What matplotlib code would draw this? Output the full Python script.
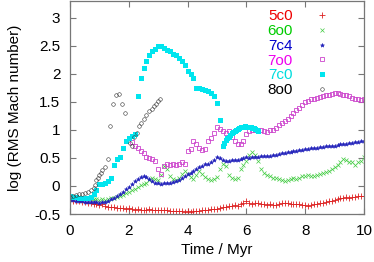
import matplotlib

matplotlib.use("Agg")

import matplotlib.pyplot as plt
import numpy as np

# time grid of the regular outputs (Myr)
TIME = np.round(np.linspace(0.0, 10.0, 101), 2)

RUN_5C0 = [
    -0.25, -0.26, -0.26, -0.27, -0.28, -0.28, -0.30, -0.31, -0.32, -0.33,
    -0.34, -0.33, -0.36, -0.37, -0.38, -0.38, -0.40, -0.39, -0.40, -0.41,
    -0.40, -0.41, -0.42, -0.41, -0.42, -0.43, -0.42, -0.41, -0.42, -0.43,
    -0.42, -0.43, -0.42, -0.43, -0.44, -0.44, -0.45, -0.45, -0.45, -0.46,
    -0.45, -0.46, -0.45, -0.44, -0.44, -0.43, -0.43, -0.42, -0.41, -0.41,
    -0.41, -0.39, -0.38, -0.37, -0.36, -0.36, -0.34, -0.35, -0.33, -0.30,
    -0.27, -0.31, -0.32, -0.31, -0.31, -0.32, -0.33, -0.34, -0.33, -0.34,
    -0.34, -0.32, -0.30, -0.31, -0.31, -0.32, -0.32, -0.33, -0.33, -0.34,
    -0.34, -0.35, -0.34, -0.33, -0.33, -0.31, -0.30, -0.29, -0.27, -0.26,
    -0.25, -0.24, -0.22, -0.21, -0.20, -0.21, -0.19, -0.19, -0.18, -0.17,
    -0.17,
]

RUN_6O0 = [
    -0.22, -0.20, -0.19, -0.20, -0.21, -0.22, -0.22, -0.23, -0.24, -0.24,
    -0.25, -0.24, -0.25, -0.24, -0.22, -0.21, -0.19, -0.17, -0.16, -0.13,
    -0.10, -0.08, -0.05, -0.02, 0.01, 0.04, 0.06, 0.10, 0.15, 0.13,
    0.10, 0.20, 0.36, 0.30, 0.18, 0.12, 0.10, 0.15, 0.22, 0.26,
    0.22, 0.16, 0.12, 0.20, 0.26, 0.22, 0.16, 0.12, 0.10, 0.13,
    0.16, 0.30, 0.40, 0.36, 0.20, 0.14, 0.12, 0.15, 0.30, 0.38,
    0.45, 0.55, 0.60, 0.55, 0.45, 0.30, 0.24, 0.20, 0.18, 0.15,
    0.14, 0.12, 0.11, 0.09, 0.11, 0.13, 0.14, 0.13, 0.15, 0.17,
    0.17, 0.19, 0.18, 0.17, 0.19, 0.21, 0.23, 0.25, 0.27, 0.30,
    0.33, 0.37, 0.43, 0.48, 0.46, 0.43, 0.42, 0.38, 0.42, 0.45,
    0.52,
]

RUN_7C4 = [
    -0.25, -0.25, -0.26, -0.27, -0.27, -0.28, -0.28, -0.29, -0.29, -0.29,
    -0.30, -0.29, -0.28, -0.26, -0.24, -0.21, -0.18, -0.14, -0.10, -0.06,
    -0.02, 0.03, 0.08, 0.12, 0.16, 0.18, 0.16, 0.12, 0.09, 0.06,
    0.05, 0.04, 0.05, 0.05, 0.06, 0.07, 0.09, 0.11, 0.14, 0.17,
    0.21, 0.24, 0.27, 0.30, 0.33, 0.36, 0.39, 0.40, 0.43, 0.47,
    0.52, 0.50, 0.47, 0.44, 0.44, 0.46, 0.47, 0.46, 0.48, 0.50,
    0.51, 0.50, 0.51, 0.52, 0.52, 0.53, 0.53, 0.54, 0.54, 0.55,
    0.55, 0.57, 0.58, 0.58, 0.60, 0.61, 0.62, 0.63, 0.64, 0.65,
    0.66, 0.66, 0.67, 0.68, 0.68, 0.69, 0.70, 0.71, 0.71, 0.72,
    0.72, 0.73, 0.74, 0.75, 0.75, 0.76, 0.77, 0.78, 0.79, 0.80,
    0.80,
]

# 7o0 starts at t = 2.1 Myr
RUN_7O0 = [
    0.78, 0.72, 0.68, 0.62, 0.58, 0.52, 0.50, 0.48, 0.45,
    0.30, 0.22, 0.35, 0.40, 0.38, 0.40, 0.38, 0.40, 0.42, 0.40,
    0.62, 0.66, 0.80, 0.75, 0.68, 0.65, 0.66, 0.80, 0.85, 0.95,
    1.05, 1.02, 0.98, 0.95, 0.98, 0.88, 0.80, 0.75, 0.74, 0.80,
    0.92, 0.98, 1.00, 1.00, 1.00, 0.99, 0.98, 0.97, 1.00, 1.00,
    1.04, 1.08, 1.12, 1.16, 1.20, 1.25, 1.30, 1.35, 1.40, 1.45,
    1.50, 1.52, 1.55, 1.56, 1.57, 1.58, 1.60, 1.62, 1.63, 1.64,
    1.65, 1.65, 1.64, 1.63, 1.62, 1.60, 1.57, 1.55, 1.56, 1.54,
    1.56,
]

TIME_7C0 = [
    0.0, 0.1, 0.2, 0.3, 0.4, 0.5, 0.6, 0.7, 0.8, 0.9,
    1.0, 1.1, 1.2, 1.3, 1.4, 1.5, 1.6, 1.7, 1.8, 1.9,
    2.0, 2.1, 2.2, 2.3, 2.4, 2.5, 2.6, 2.7, 2.8, 2.9,
    3.0, 3.1, 3.2, 3.3, 3.4, 3.5, 3.6, 3.7, 3.8, 3.9,
    4.0, 4.1, 4.2, 4.3, 4.4, 4.5, 4.6, 4.7, 4.8, 4.9,
    5.0, 5.1, 5.2, 5.25, 5.3, 5.35, 5.4, 5.45, 5.5, 5.55,
    5.6, 5.65, 5.7, 5.75, 5.8, 5.85, 5.9, 5.95, 6.0, 6.05,
    6.1, 6.15, 6.2, 6.25, 6.3, 6.35, 6.4,
]
RUN_7C0 = [
    -0.18, -0.20, -0.20, -0.21, -0.22, -0.22, -0.21, -0.20, -0.15, -0.07,
    0.03, 0.04, 0.05, 0.08, 0.14, 0.37, 0.48, 0.52, 0.67, 0.80,
    0.85, 0.90, 0.93, 1.60, 1.93, 2.10, 2.23, 2.33, 2.40, 2.45,
    2.50, 2.50, 2.47, 2.43, 2.40, 2.36, 2.33, 2.29, 2.23, 2.15,
    2.06, 2.00, 1.92, 1.75, 1.74, 1.73, 1.72, 1.70, 1.66, 1.60,
    1.48, 1.18, 0.72, 0.77, 0.82, 0.85, 0.88, 0.91, 0.94, 0.96,
    0.98, 1.00, 1.02, 1.04, 1.05, 1.06, 1.06, 1.07, 1.06, 1.06,
    1.06, 1.05, 1.04, 1.03, 1.02, 1.00, 0.98,
]

TIME_8O0 = [
    0.0, 0.1, 0.2, 0.3, 0.4, 0.5, 0.6, 0.7, 0.8, 0.85,
    0.9, 0.95, 1.0, 1.05, 1.1, 1.2, 1.3, 1.36, 1.47, 1.58,
    1.68, 1.76, 1.87, 2.04, 2.1, 2.16, 2.28, 2.35, 2.42, 2.5,
    2.6, 2.7, 2.78, 2.86, 2.94, 3.0, 3.06,
]
RUN_8O0 = [
    -0.20, -0.17, -0.16, -0.15, -0.14, -0.13, -0.11, -0.08, -0.04, 0.02,
    0.10, 0.15, 0.20, 0.24, 0.28, 0.33, 0.48, 1.07, 1.46, 1.62,
    1.64, 1.46, 1.30, 0.76, 0.72, 0.88, 0.95, 1.07, 1.12, 1.20,
    1.27, 1.33, 1.38, 1.42, 1.47, 1.51, 1.56,
]

LABELS = ["5c0", "6o0", "7c4", "7o0", "7c0", "8o0"]
TEXT_COLORS = ["#ee0000", "#00cc00", "#0000cc", "#ee00ee", "#00dddd", "black"]

plt.rcParams["font.family"] = ["Liberation Sans", "DejaVu Sans"]
plt.rcParams["font.size"] = 10

SPINE = "#777777"

fig = plt.figure(figsize=(3.74, 2.62), dpi=100)
ax = fig.add_axes([70 / 374, 48 / 262, 294 / 374, 213 / 262])

ax.plot(TIME, RUN_5C0, ls="none", marker="+", ms=3.8, mew=0.6, color="#dd2222", label=LABELS[0])
ax.plot(TIME, RUN_6O0, ls="none", marker="x", ms=2.6, mew=0.5, color="#44cc44", label=LABELS[1])
ax.plot(TIME, RUN_7C4, ls="none", marker="*", ms=3.0, mew=0.4, color="#2222bb", label=LABELS[2])
ax.plot(TIME[21:], RUN_7O0, ls="none", marker="s", ms=3.3, mew=0.6, mfc="none", color="#cc44cc", label=LABELS[3])
ax.plot(TIME_7C0, RUN_7C0, ls="none", marker="s", ms=3.6, mew=0, color="#00e5ee", label=LABELS[4])
ax.plot(TIME_8O0, RUN_8O0, ls="none", marker="o", ms=2.6, mew=0.4, mfc="none", color="#333333", label=LABELS[5])

ax.set_xlim(0, 10)
ax.set_ylim(-0.5, 3.3)
ax.set_xticks([0, 2, 4, 6, 8, 10])
ax.set_yticks([-0.5, 0, 0.5, 1, 1.5, 2, 2.5, 3])
ax.set_yticklabels(["-0.5", "0", "0.5", "1", "1.5", "2", "2.5", "3"])
ax.tick_params(direction="in", length=4, width=0.8, color=SPINE,
               top=True, right=True, labelsize=11, pad=7)
for spine in ax.spines.values():
    spine.set_color(SPINE)
    spine.set_linewidth(0.9)

ax.set_xlabel("Time / Myr", fontsize=11, labelpad=4)
ax.set_ylabel("log (RMS Mach number)", fontsize=11, labelpad=9)

leg = ax.legend(loc="upper right", bbox_to_anchor=(0.957, 1.0), frameon=False,
                markerfirst=False, fontsize=11,
                handlelength=2.7, handletextpad=0.6, labelspacing=0.05,
                borderaxespad=0.15, numpoints=1)
for text, color in zip(leg.get_texts(), TEXT_COLORS):
    text.set_color(color)

fig.savefig("out.png", dpi=100)
